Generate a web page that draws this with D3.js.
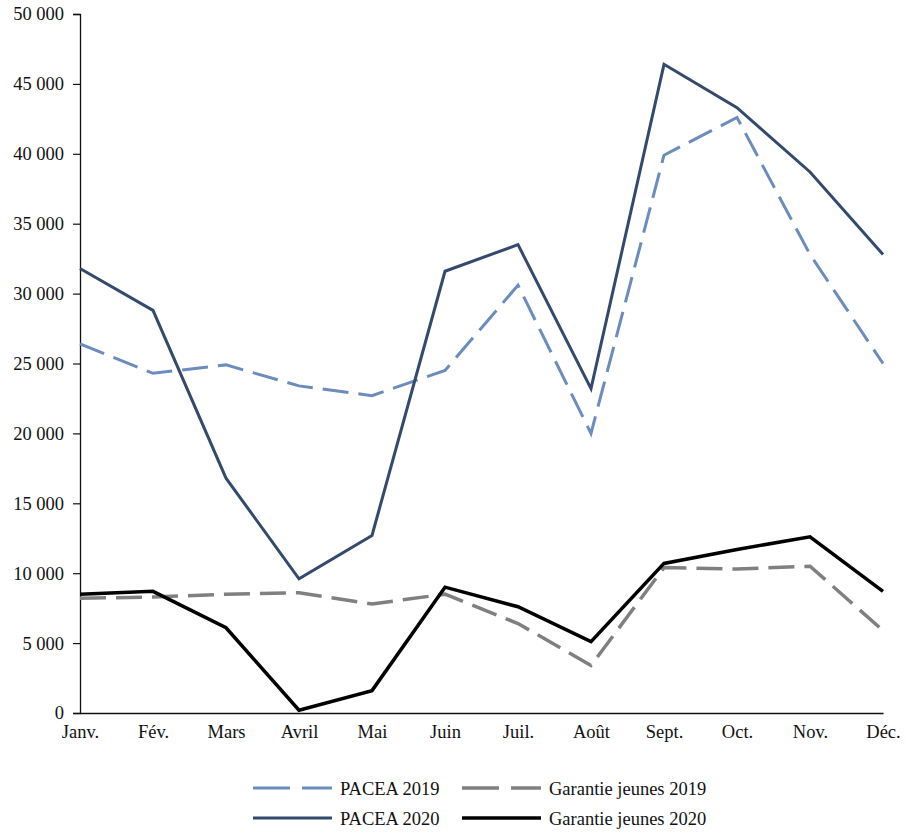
<!DOCTYPE html>
<html>
<head>
<meta charset="utf-8">
<script src="https://cdn.jsdelivr.net/npm/d3@7"></script>
<style>
  html, body { margin: 0; padding: 0; background: #fff; }
  svg text { font-family: "Liberation Serif", "DejaVu Serif", serif; fill: #111; }
</style>
</head>
<body>
<svg id="chart" width="906" height="834"></svg>
<script>
// Monthly entries, 2019 vs 2020
const months = ["Janv.", "Fév.", "Mars", "Avril", "Mai", "Juin", "Juil.", "Août", "Sept.", "Oct.", "Nov.", "Déc."];
const pacea2019 = [26400, 24300, 24900, 23400, 22700, 24500, 30600, 20000, 39900, 42600, 32800, 25000];
const pacea2020 = [31800, 28800, 16800, 9600, 12700, 31600, 33500, 23200, 46400, 43300, 38700, 32800];
const gj2019 = [8200, 8300, 8500, 8600, 7800, 8500, 6400, 3400, 10400, 10300, 10500, 5900];
const gj2020 = [8500, 8700, 6100, 200, 1600, 9000, 7600, 5100, 10700, 11700, 12600, 8700];
const yTicks = [0, 5000, 10000, 15000, 20000, 25000, 30000, 35000, 40000, 45000, 50000];

const series = [
  { name: "PACEA 2019", values: pacea2019, color: "#6b8cbd", width: 3, dash: "26,10" },
  { name: "Garantie jeunes 2019", values: gj2019, color: "#808080", width: 3.5, dash: "26,10" },
  { name: "PACEA 2020", values: pacea2020, color: "#344a6c", width: 3, dash: null },
  { name: "Garantie jeunes 2020", values: gj2020, color: "#000000", width: 3.5, dash: null }
];

const svg = d3.select("#chart");
const plotLeft = 80, plotRight = 883, plotTop = 14, plotBottom = 713;

const x = d3.scalePoint().domain(months).range([plotLeft, plotRight]).padding(0);
const y = d3.scaleLinear().domain([0, 50000]).range([plotBottom, plotTop]);

const fr = d3.formatLocale({ decimal: ",", thousands: " ", grouping: [3], currency: ["", " €"] });
const fmt = fr.format(",d");

// Y axis
const yAxis = svg.append("g")
  .attr("transform", `translate(${plotLeft},0)`)
  .call(d3.axisLeft(y).tickValues(yTicks).tickFormat(fmt).tickSize(7).tickPadding(9));
yAxis.select(".domain").attr("stroke", "#111").attr("stroke-width", 1.3);
yAxis.selectAll(".tick line").attr("stroke", "#111").attr("stroke-width", 1.2);
yAxis.selectAll(".tick text").attr("font-size", 18.5).attr("font-family", "Liberation Serif, serif").attr("fill", "#111");

// X axis
const xAxis = svg.append("g")
  .attr("transform", `translate(0,${plotBottom})`)
  .call(d3.axisBottom(x).tickSize(0).tickPadding(12));
xAxis.select(".domain").attr("stroke", "#111").attr("stroke-width", 1.3);
xAxis.selectAll(".tick text").attr("font-size", 18.5).attr("font-family", "Liberation Serif, serif").attr("fill", "#111");

// Lines
const line = d3.line().x((d, i) => x(months[i])).y(d => y(d));
svg.append("g").selectAll("path")
  .data(series)
  .join("path")
  .attr("d", d => line(d.values))
  .attr("fill", "none")
  .attr("stroke", d => d.color)
  .attr("stroke-width", d => d.width)
  .attr("stroke-dasharray", d => d.dash)
  .attr("stroke-linejoin", "miter");

// Legend
const legendPos = [
  { s: series[0], x: 253, y: 788 },
  { s: series[1], x: 462, y: 788 },
  { s: series[2], x: 253, y: 818 },
  { s: series[3], x: 462, y: 818 }
];
const lg = svg.append("g").selectAll("g").data(legendPos).join("g")
  .attr("transform", d => `translate(${d.x},${d.y})`);
lg.append("line")
  .attr("x1", 0).attr("x2", 79).attr("y1", 0).attr("y2", 0)
  .attr("stroke", d => d.s.color)
  .attr("stroke-width", d => d.s.width)
  .attr("stroke-dasharray", d => d.s.dash ? "37,12" : null);
lg.append("text")
  .attr("x", 87).attr("y", 6.5)
  .attr("font-size", 18.5)
  .text(d => d.s.name);
</script>
</body>
</html>
